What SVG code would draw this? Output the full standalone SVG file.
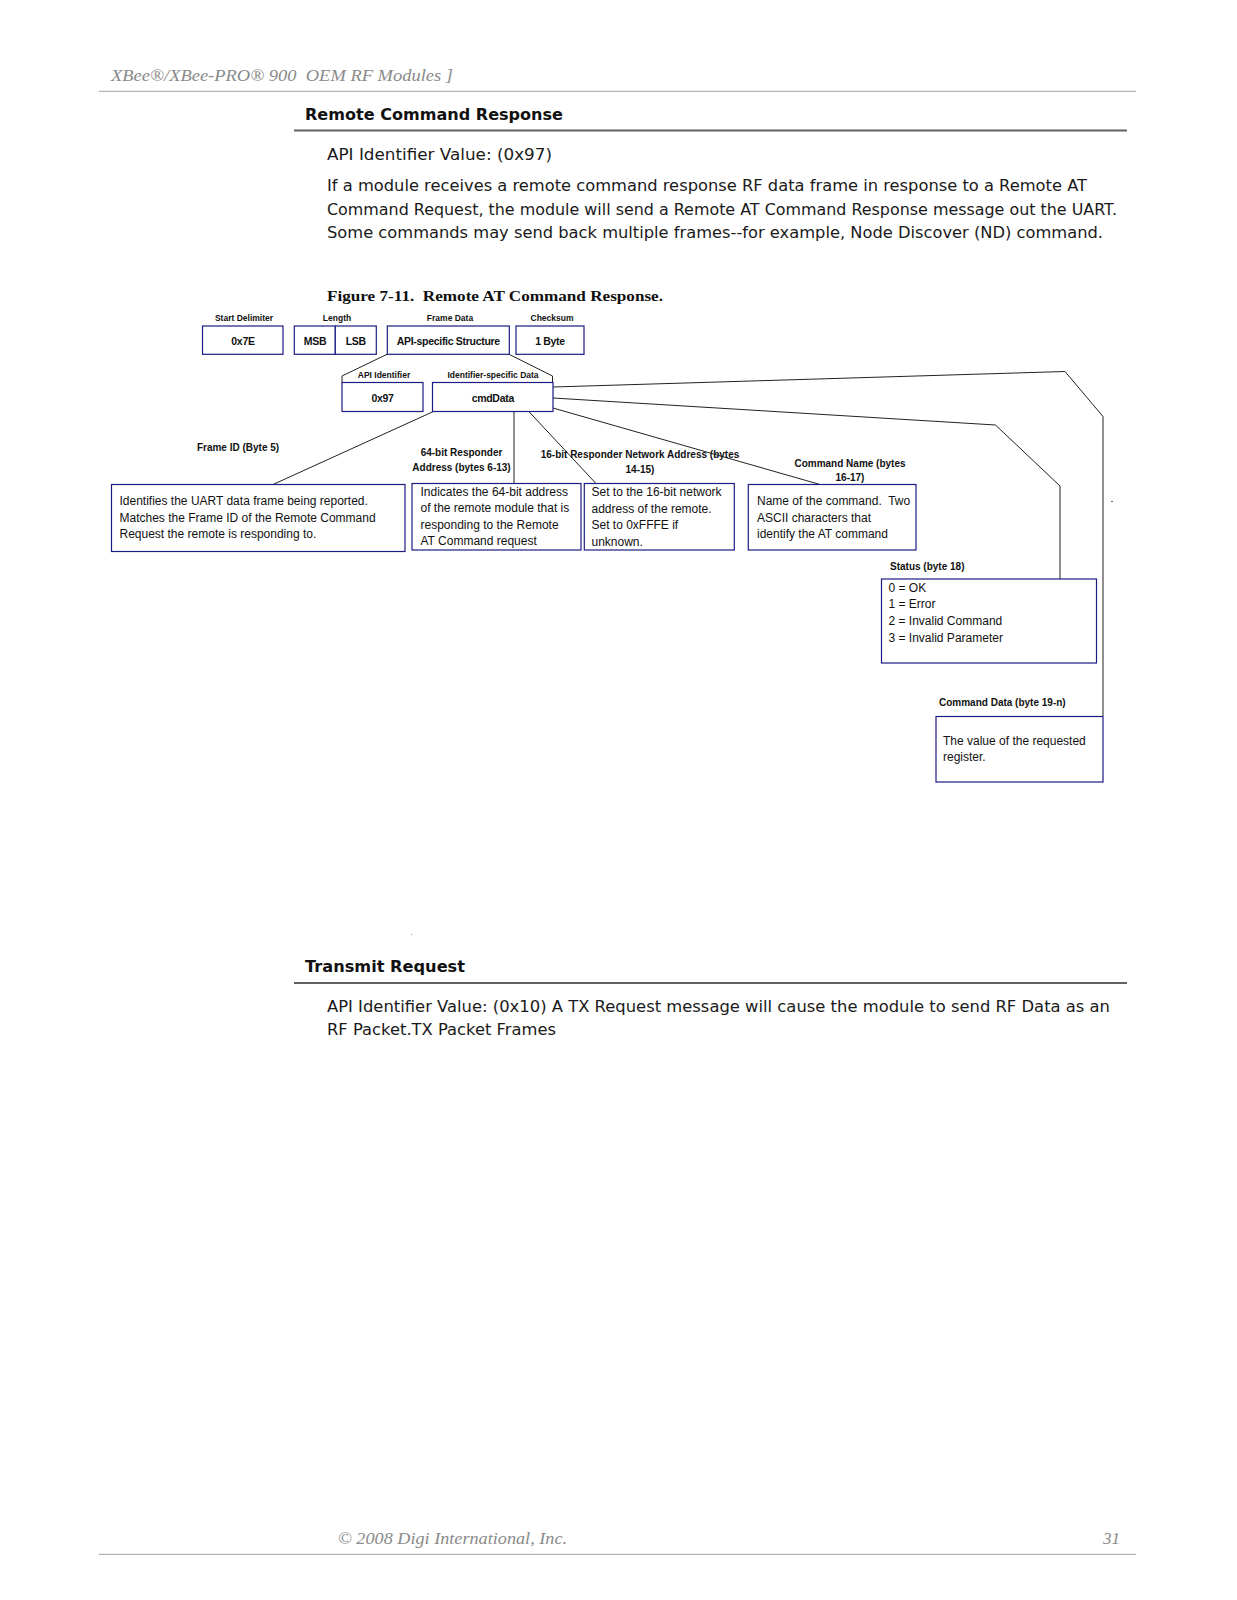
<svg xmlns="http://www.w3.org/2000/svg" width="1237" height="1600" viewBox="0 0 1237 1600">
<style>
.pg{fill:#ffffff}
.hdr{font-family:"Liberation Serif","Times New Roman",serif;font-style:italic;font-size:17px;fill:#8a8a8a}
.rule{stroke:#b4b4b4;stroke-width:1.3;fill:none}
.srule{stroke:#606060;stroke-width:2;fill:none}
.h2{font-family:"DejaVu Sans",Verdana,sans-serif;font-weight:bold;font-size:15px;fill:#111}
.body{font-family:"DejaVu Sans",Verdana,sans-serif;font-size:15px;fill:#1a1a1a}
.cap{font-family:"Liberation Serif","Times New Roman",serif;font-weight:bold;font-size:15.5px;fill:#111}
.box{fill:#ffffff;stroke:#1c1c84;stroke-width:1.2}
.lbl{font-family:"Liberation Sans",Arial,sans-serif;font-weight:bold;font-size:8.5px;fill:#111;text-anchor:middle}
.bt{font-family:"Liberation Sans",Arial,sans-serif;font-weight:bold;font-size:10.5px;fill:#111;text-anchor:middle;letter-spacing:-0.3px}
.fl{font-family:"Liberation Sans",Arial,sans-serif;font-weight:bold;font-size:10px;fill:#111}
.flc{text-anchor:middle}
.tx{font-family:"Liberation Sans",Arial,sans-serif;font-size:12px;fill:#111}
.cn{stroke:#222;stroke-width:1;fill:none}
.ftr{font-family:"Liberation Serif","Times New Roman",serif;font-style:italic;font-size:17px;fill:#8a8a8a}
</style>
<rect class="pg" x="0" y="0" width="1237" height="1600"/>

<g id="page-header">
<text class="hdr" x="111" y="81" xml:space="preserve" textLength="342" lengthAdjust="spacingAndGlyphs">XBee®/XBee-PRO® 900  OEM RF Modules ]</text>
<line class="rule" x1="99" y1="91.3" x2="1136" y2="91.3"/>
</g>

<g id="section-remote">
<text class="h2" x="305" y="119.5" textLength="258" lengthAdjust="spacingAndGlyphs">Remote Command Response</text>
<line class="srule" x1="294" y1="130.6" x2="1127" y2="130.6"/>
<text class="body" x="327" y="159.5" textLength="225" lengthAdjust="spacingAndGlyphs">API Identifier Value: (0x97)</text>
<text class="body" x="327" y="191" textLength="760" lengthAdjust="spacingAndGlyphs">If a module receives a remote command response RF data frame in response to a Remote AT</text>
<text class="body" x="327" y="214.5" textLength="790" lengthAdjust="spacingAndGlyphs">Command Request, the module will send a Remote AT Command Response message out the UART.</text>
<text class="body" x="327" y="238" textLength="776" lengthAdjust="spacingAndGlyphs">Some commands may send back multiple frames--for example, Node Discover (ND) command.</text>
<text class="cap" x="327" y="301" xml:space="preserve" textLength="336" lengthAdjust="spacingAndGlyphs">Figure 7-11.  Remote AT Command Response.</text>
</g>

<g id="connectors">
<polyline class="cn" points="387,354.3 342,376 342,382.5"/>
<polyline class="cn" points="509,354.3 552.5,376 552.5,382.5"/>
<polyline class="cn" points="553,387 1065,371.5 1103,416.5 1103,716"/>
<polyline class="cn" points="553,398 995.5,425 1060,486 1060,579"/>
<line class="cn" x1="553" y1="408" x2="820" y2="484.5"/>
<line class="cn" x1="529" y1="411.7" x2="596" y2="483.5"/>
<line class="cn" x1="514" y1="411.7" x2="514" y2="483.5"/>
<line class="cn" x1="433" y1="411.7" x2="273" y2="484.5"/>
</g>

<g id="start-delimiter">
<text class="lbl" x="244" y="320.5">Start Delimiter</text>
<rect class="box" x="202.5" y="326" width="80.5" height="28.3"/>
<text class="bt" x="243" y="345">0x7E</text>
</g>

<g id="length">
<text class="lbl" x="337" y="320.5">Length</text>
<rect class="box" x="294.3" y="326" width="41" height="28.3"/>
<rect class="box" x="335.3" y="326" width="41" height="28.3"/>
<text class="bt" x="315" y="345">MSB</text>
<text class="bt" x="355.8" y="345">LSB</text>
</g>

<g id="frame-data">
<text class="lbl" x="450" y="320.5">Frame Data</text>
<rect class="box" x="387.3" y="326" width="122" height="28.3"/>
<text class="bt" x="448.3" y="345">API-specific Structure</text>
</g>

<g id="checksum">
<text class="lbl" x="552" y="320.5">Checksum</text>
<rect class="box" x="516" y="326" width="68" height="28.3"/>
<text class="bt" x="550" y="345">1 Byte</text>
</g>

<g id="api-identifier">
<text class="lbl" x="384" y="377.5">API Identifier</text>
<rect class="box" x="342" y="382.5" width="81" height="29"/>
<text class="bt" x="382.5" y="401.5">0x97</text>
</g>

<g id="cmd-data">
<text class="lbl" x="493" y="377.5">Identifier-specific Data</text>
<rect class="box" x="432.5" y="382.5" width="120.5" height="29"/>
<text class="bt" x="492.8" y="401.5">cmdData</text>
</g>

<g id="frame-id">
<text class="fl flc" x="238" y="450.7">Frame ID (Byte 5)</text>
<rect class="box" x="111.5" y="484.5" width="293.5" height="67"/>
<text class="tx" x="119.5" y="505">Identifies the UART data frame being reported.</text>
<text class="tx" x="119.5" y="521.5">Matches the Frame ID of the Remote Command</text>
<text class="tx" x="119.5" y="538">Request the remote is responding to.</text>
</g>

<g id="responder-64">
<text class="fl flc" x="461.5" y="456">64-bit Responder</text>
<text class="fl flc" x="461.5" y="470.5">Address (bytes 6-13)</text>
<rect class="box" x="412" y="483.5" width="169" height="66.5"/>
<text class="tx" x="420.5" y="495.5">Indicates the 64-bit address</text>
<text class="tx" x="420.5" y="512">of the remote module that is</text>
<text class="tx" x="420.5" y="528.5">responding to the Remote</text>
<text class="tx" x="420.5" y="545">AT Command request</text>
</g>

<g id="responder-16">
<text class="fl flc" x="640" y="458">16-bit Responder Network Address (bytes</text>
<text class="fl flc" x="640" y="472.5">14-15)</text>
<rect class="box" x="584.3" y="483.5" width="150" height="66.5"/>
<text class="tx" x="591.5" y="496">Set to the 16-bit network</text>
<text class="tx" x="591.5" y="512.5">address of the remote.</text>
<text class="tx" x="591.5" y="529">Set to 0xFFFE if</text>
<text class="tx" x="591.5" y="545.5">unknown.</text>
</g>

<g id="command-name">
<text class="fl flc" x="850" y="466.5">Command Name (bytes</text>
<text class="fl flc" x="850" y="480.5">16-17)</text>
<rect class="box" x="748.3" y="484.5" width="167.7" height="65.5"/>
<text class="tx" x="757" y="505" xml:space="preserve">Name of the command.  Two</text>
<text class="tx" x="757" y="521.5">ASCII characters that</text>
<text class="tx" x="757" y="537.5">identify the AT command</text>
</g>

<g id="status">
<text class="fl" x="890" y="570">Status (byte 18)</text>
<rect class="box" x="881.5" y="579" width="215" height="84"/>
<text class="tx" x="888.5" y="591.7">0 = OK</text>
<text class="tx" x="888.5" y="608.3">1 = Error</text>
<text class="tx" x="888.5" y="625">2 = Invalid Command</text>
<text class="tx" x="888.5" y="641.7">3 = Invalid Parameter</text>
</g>

<g id="command-data">
<text class="fl" x="939" y="705.5">Command Data (byte 19-n)</text>
<rect class="box" x="936" y="716.5" width="167" height="65.5"/>
<text class="tx" x="943" y="745">The value of the requested</text>
<text class="tx" x="943" y="760.5">register.</text>
</g>

<g id="specks">
<line x1="1111" y1="501.5" x2="1113" y2="501.5" stroke="#5a5a9a" stroke-width="1"/>
<line x1="411" y1="934.5" x2="412" y2="934.5" stroke="#9a9a9a" stroke-width="1"/>
</g>

<g id="section-transmit">
<text class="h2" x="305" y="972" textLength="160" lengthAdjust="spacingAndGlyphs">Transmit Request</text>
<line class="srule" x1="294" y1="983" x2="1127" y2="983"/>
<text class="body" x="327" y="1011.5" textLength="783" lengthAdjust="spacingAndGlyphs">API Identifier Value: (0x10) A TX Request message will cause the module to send RF Data as an</text>
<text class="body" x="327" y="1035" textLength="229" lengthAdjust="spacingAndGlyphs">RF Packet.TX Packet Frames</text>
</g>

<g id="page-footer">
<text class="ftr" x="338" y="1544" textLength="229" lengthAdjust="spacingAndGlyphs">© 2008 Digi International, Inc.</text>
<text class="ftr" x="1120" y="1544" text-anchor="end">31</text>
<line class="rule" x1="99" y1="1554.4" x2="1136" y2="1554.4"/>
</g>
</svg>
